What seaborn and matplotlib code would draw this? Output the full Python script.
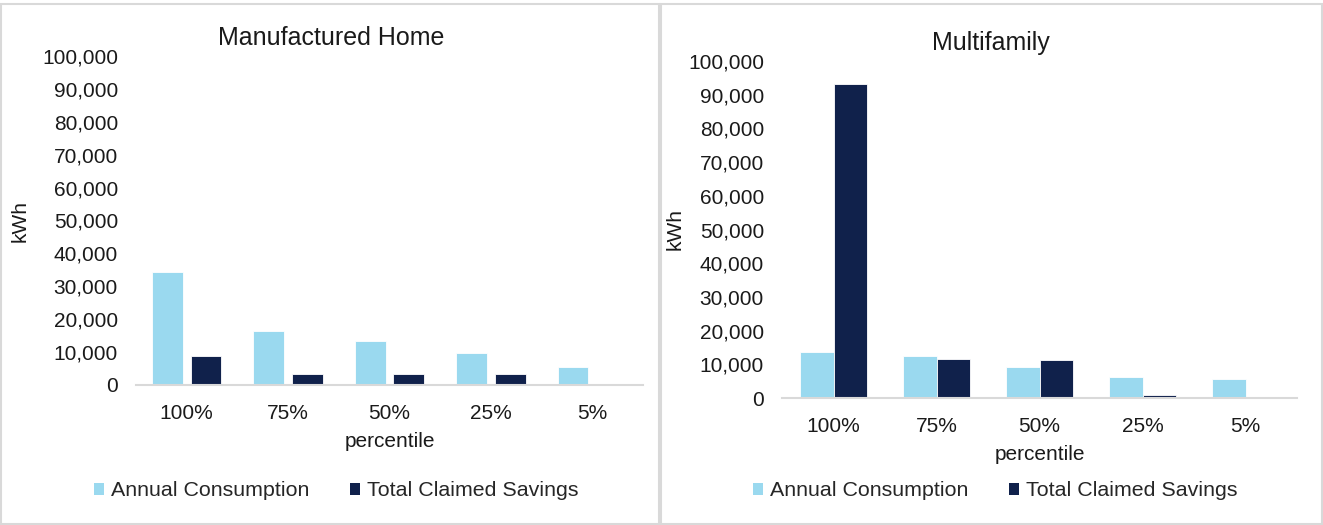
import matplotlib
matplotlib.use("Agg")
import matplotlib.pyplot as plt
import seaborn as sns
import pandas as pd
from matplotlib.patches import Patch, Rectangle
from matplotlib.ticker import FuncFormatter, MultipleLocator

percentiles = ["100%", "75%", "50%", "25%", "5%"]
series_names = ["Annual Consumption", "Total Claimed Savings"]

mh_consumption = [34400, 16300, 13300, 9850, 5400]
mh_savings = [8700, 3250, 3250, 3250, 300]

mf_consumption = [13750, 12450, 9200, 6130, 5640]
mf_savings = [93200, 11570, 11370, 800, 0]

colors = ["#9ad9ef", "#10214b"]

sns.set_theme(style="white")
plt.rcParams["font.family"] = ["Liberation Sans", "DejaVu Sans"]

def make_df(cons, sav):
    rows = []
    for p, c, s in zip(percentiles, cons, sav):
        rows.append({"percentile": p, "series": series_names[0], "kWh": c})
        rows.append({"percentile": p, "series": series_names[1], "kWh": s})
    return pd.DataFrame(rows)

fig = plt.figure(figsize=(13.23, 5.25), dpi=100)
W, H = 1323, 525

def box(x0, y0, x1, y1):
    return [x0 / W, 1 - y1 / H, (x1 - x0) / W, (y1 - y0) / H]

ax1 = fig.add_axes(box(136, 56, 643, 385))
ax2 = fig.add_axes(box(782, 61, 1297, 398))

# panel borders
for (x0, x1) in [(1, 659), (661, 1322)]:
    fig.add_artist(Rectangle((x0 / W, 1 / H), (x1 - x0) / W, (H - 5) / H,
                             transform=fig.transFigure, fill=False,
                             edgecolor="#d9d9d9", linewidth=1.5, zorder=0))

fmt = FuncFormatter(lambda v, p: f"{int(v):,}")

configs = [
    (ax1, make_df(mh_consumption, mh_savings), "Manufactured Home", 0.76, 0.2, 336),
    (ax2, make_df(mf_consumption, mf_savings), "Multifamily", 0.66, 0.0, 995),
]

for ax, df, title, width, gap, legx in configs:
    sns.barplot(data=df, x="percentile", y="kWh", hue="series", order=percentiles,
                hue_order=series_names, palette=colors, width=width, gap=gap,
                ax=ax, legend=False, saturation=1, edgecolor="white", linewidth=0.6)
    ax.set_xlim(-0.5, 4.5)
    ax.set_ylim(0, 100000)
    ax.yaxis.set_major_locator(MultipleLocator(10000))
    ax.yaxis.set_major_formatter(fmt)
    for s in ["top", "right", "left"]:
        ax.spines[s].set_visible(False)
    ax.spines["bottom"].set_color("#d9d9d9")
    ax.spines["bottom"].set_linewidth(1.5)
    ax.tick_params(axis="both", labelsize=15, colors="#1a1a1a", length=0)
    ax.tick_params(axis="x", pad=14)
    ax.tick_params(axis="y", pad=13)
    ax.set_title(title, fontsize=18, color="#1a1a1a", pad=8)
    ax.set_xlabel("percentile", fontsize=15, color="#1a1a1a", labelpad=6)
    ax.set_ylabel("kWh", fontsize=15, color="#1a1a1a", labelpad=2)
    handles = [Patch(facecolor=c, edgecolor="none") for c in colors]
    fig.legend(handles, series_names, loc="center", bbox_to_anchor=(legx / W, 1 - 491 / H),
               ncol=2, frameon=False, fontsize=15.4, handlelength=0.5, handleheight=0.5,
               handletextpad=0.3, columnspacing=1.9)

ax1.yaxis.set_label_coords(-0.21, 0.5)
ax2.yaxis.set_label_coords(-0.19, 0.5)
ax1.title.set_position((0.385, 1.0))
ax2.title.set_position((0.405, 1.0))

fig.savefig("out.png", dpi=100, facecolor="white")
